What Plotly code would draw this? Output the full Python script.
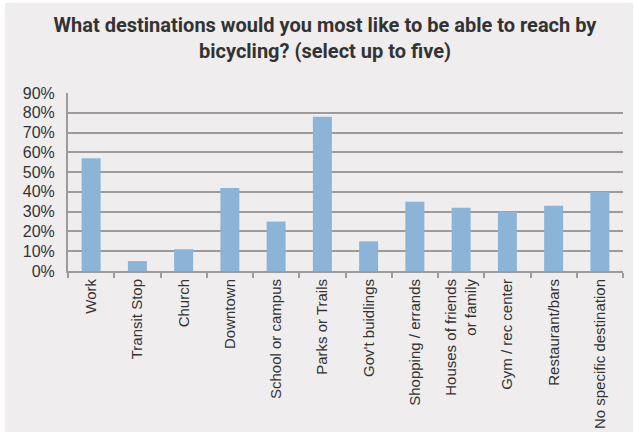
import plotly.graph_objects as go

# Survey responses: share of respondents choosing each destination
destinations = [
    "Work", "Transit Stop", "Church", "Downtown", "School or campus",
    "Parks or Trails", "Gov't buidlings", "Shopping / errands",
    "Houses of friends<br>or family", "Gym / rec center",
    "Restaurant/bars", "No specific destination",
]
share_pct = [57, 5, 11, 42, 25, 78, 15, 35, 32, 30, 33, 40]
y_ticks = [0, 10, 20, 30, 40, 50, 60, 70, 80, 90]
y_tick_labels = [f"{v}%" for v in y_ticks]

W, H = 635, 434
ML, MR, MT, MB = 68, 12, 93, 163
PW, PH = W - ML - MR, H - MT - MB

BG = "#efedee"
GRID = "#9c9c9c"
TEXT = "#333333"

fig = go.Figure(
    go.Bar(
        x=destinations,
        y=share_pct,
        marker=dict(color="#8cb4d7", line=dict(width=0)),
        hoverinfo="x+y",
    )
)

# grey card behind the chart, inset from the white page edge
fig.add_shape(
    type="rect", xref="paper", yref="paper", layer="below",
    x0=(5 - ML) / PW, x1=(633 - ML) / PW,
    y0=(H - MB - 432) / PH, y1=(H - MB - 3) / PH,
    fillcolor=BG, line=dict(width=0),
)

fig.update_layout(
    width=W, height=H,
    margin=dict(l=ML, r=MR, t=MT, b=MB, pad=0, autoexpand=False),
    paper_bgcolor="white",
    plot_bgcolor=BG,
    bargap=0.59,
    showlegend=False,
    title=dict(
        text="What destinations would you most like to be able to reach by<br>bicycling? (select up to five)",
        x=(325 - ML) / PW, xref="paper", xanchor="center",
        y=1 - 32 / H, yref="container", yanchor="top",
        font=dict(family="Roboto, Liberation Sans, sans-serif",
                  size=20, weight="bold", color=TEXT),
    ),
    font=dict(family="Liberation Sans, Arial, sans-serif", color=TEXT),
)

fig.update_xaxes(
    tickangle=-90,
    tickfont=dict(size=15, color=TEXT),
    showline=True, linecolor=GRID, linewidth=2,
    ticks="outside", tickson="boundaries", ticklen=5, tickcolor=GRID, tickwidth=2,
    showgrid=False, automargin=False,
)
fig.update_yaxes(
    range=[0, 90],
    tickvals=y_ticks, ticktext=y_tick_labels,
    tickfont=dict(size=16, color=TEXT),
    showline=True, linecolor=GRID, linewidth=2,
    showgrid=True, gridcolor=GRID, gridwidth=2,
    zeroline=False, automargin=False,
    ticks="", ticklabelstandoff=8,
)

fig.write_html("out.html")
